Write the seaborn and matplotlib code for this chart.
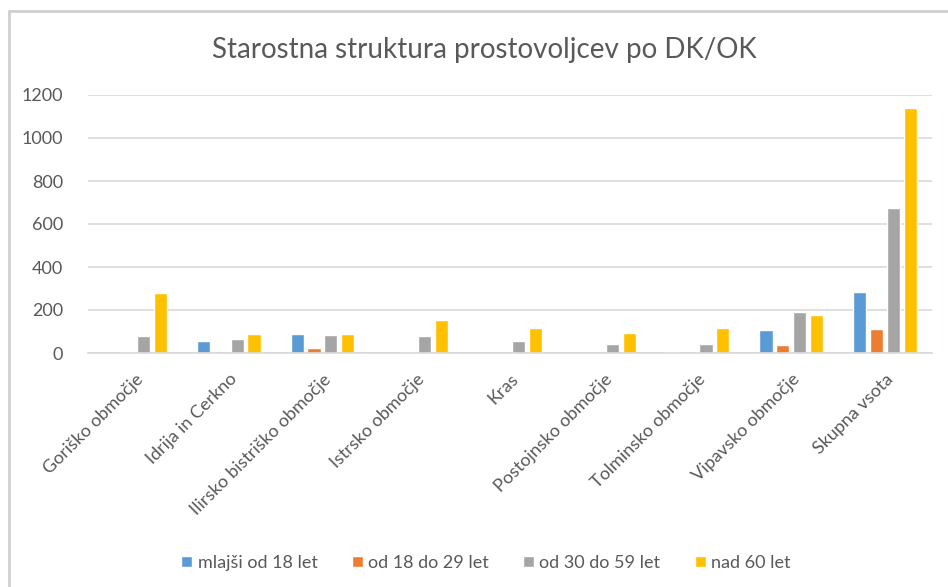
import matplotlib
matplotlib.use("Agg")
import matplotlib.pyplot as plt
import seaborn as sns
import pandas as pd
from matplotlib.lines import Line2D

categories = ["Goriško območje", "Idrija in Cerkno", "Ilirsko bistriško območje",
              "Istrsko območje", "Kras", "Postojnsko območje", "Tolminsko območje",
              "Vipavsko območje", "Skupna vsota"]
series = ["mlajši od 18 let", "od 18 do 29 let", "od 30 do 59 let", "nad 60 let"]
mlajsi_18 = [0, 57, 89, 0, 0, 0, 5, 107, 283]
od_18_29 = [5, 0, 25, 3, 0, 0, 0, 37, 110]
od_30_59 = [79, 67, 82, 79, 57, 40, 42, 193, 674]
nad_60 = [278, 89, 89, 154, 117, 92, 115, 179, 1140]
title = "Starostna struktura prostovoljcev po DK/OK"
yticks = [0, 200, 400, 600, 800, 1000, 1200]
colors = ["#5B9BD5", "#ED7D31", "#A5A5A5", "#FFC000"]

rows = []
for s, vals in zip(series, [mlajsi_18, od_18_29, od_30_59, nad_60]):
    for c, v in zip(categories, vals):
        rows.append({"cat": c, "series": s, "value": v})
df = pd.DataFrame(rows)

sns.set_theme(style="white")
plt.rcParams["font.family"] = ["Lato", "DejaVu Sans"]
txt = "#595959"

fig = plt.figure(figsize=(9.48, 5.87), dpi=100)
ax = fig.add_axes([88/948, 1-353/587, (932-88)/948, (353-95)/587])
sns.barplot(data=df, x="cat", y="value", hue="series", order=categories,
            hue_order=series, palette=colors, width=0.72, gap=0.22,
            saturation=1, ax=ax, legend=True)
ax.set_ylim(0, 1200)
ax.set_xlim(-0.5, len(categories)-0.5)
ax.set_yticks(yticks)
ax.set_yticklabels([str(t) for t in yticks], color=txt, fontsize=13)
ax.yaxis.grid(True, color="#D9D9D9", linewidth=1.2)
ax.set_axisbelow(True)
for sp in ["top", "right", "left"]:
    ax.spines[sp].set_visible(False)
ax.spines["bottom"].set_color("#D9D9D9")
ax.spines["bottom"].set_linewidth(1.2)
ax.tick_params(axis="y", length=0, pad=18)
ax.tick_params(axis="x", length=0, pad=13)
ax.set_xticks(range(len(categories)))
ax.set_xticklabels(categories, rotation=45, ha="right", rotation_mode="anchor",
                   color=txt, fontsize=13)
ax.set_xlabel("")
ax.set_ylabel("")

fig.text(484/948, 1-50/587, title, ha="center", va="center", fontsize=20, color=txt)

handles, labels = ax.get_legend_handles_labels()
ax.legend_.remove()
fig.legend(handles, labels, loc="center", bbox_to_anchor=(486/948, 1-563/587),
           ncol=4, frameon=False, fontsize=13, labelcolor=txt,
           handlelength=0.6, handleheight=0.6, handletextpad=0.3, columnspacing=1.9)

fig.add_artist(Line2D([9/948, 9/948], [0, 1-11/587], transform=fig.transFigure,
                      color="#D0D0D0", linewidth=2))
fig.add_artist(Line2D([9/948, 1], [1-11/587, 1-11/587], transform=fig.transFigure,
                      color="#D0D0D0", linewidth=2))

fig.savefig("out.png", dpi=100)
